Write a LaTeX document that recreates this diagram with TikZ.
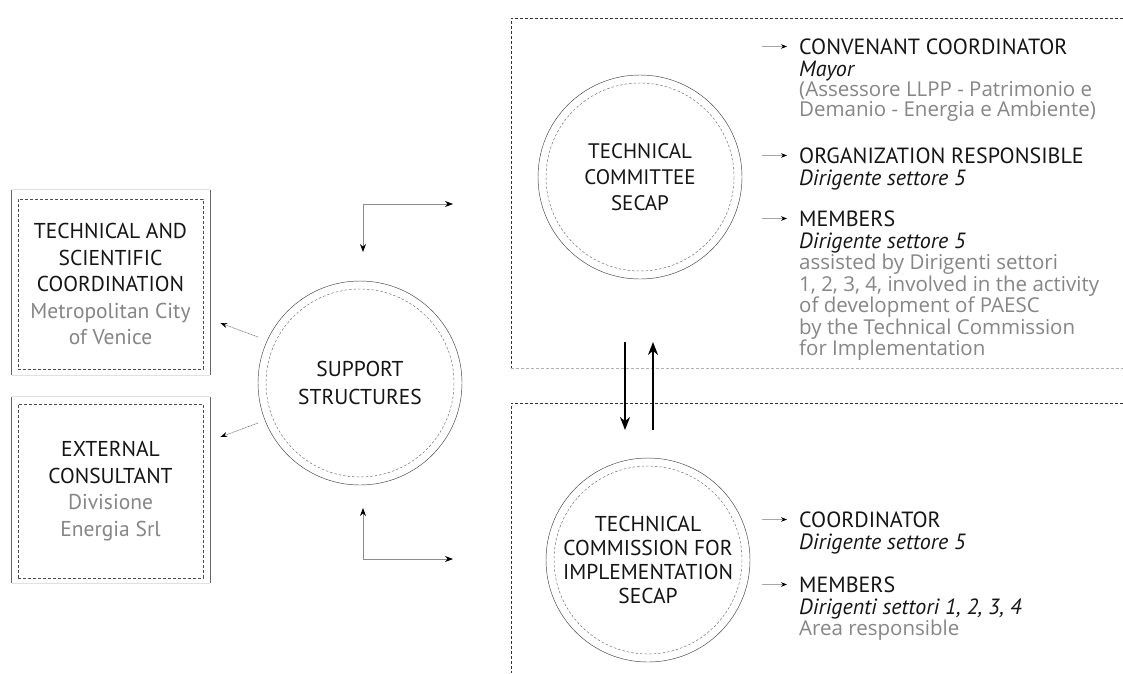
\documentclass[tikz,border=0pt]{standalone}
\usepackage{fontspec}
\setmainfont{PT Sans}
\newfontfamily\grayfont{Open Sans}
\usetikzlibrary{arrows.meta,calc}
\definecolor{txtgray}{HTML}{868686}
\definecolor{txtblack}{HTML}{151515}
\newcommand{\gr}[1]{{\grayfont\fontsize{20.5}{20}\selectfont\color{txtgray}#1}}
\newcommand{\bx}[1]{\textcolor{txtgray}{#1}}
\begin{document}
\begin{tikzpicture}[x=1pt,y=-1pt,
  ring/.style={circle, minimum size=204pt, inner sep=0pt, draw=black!75, line width=0.45pt,
     align=center, text=txtblack},
  inring/.style={draw=black!60, line width=0.45pt, dash pattern=on 2.5pt off 2pt},
  sidebox/.style={draw=black!70, line width=0.55pt, dash pattern=on 3pt off 2pt,
     minimum width=185pt, align=center, text=txtblack, font=\fontsize{21.5}{26.5}\selectfont},
  sideline/.style={draw=black!60, line width=0.7pt},
  sidelight/.style={draw=black!12, line width=0.6pt},
  frameline/.style={draw=black!80, line width=0.55pt, dash pattern=on 3pt off 2pt},
  framelight/.style={draw=black!30, line width=0.55pt, dash pattern=on 3pt off 2pt},
  thinarr/.style={draw=black!70, line width=0.4pt, dash pattern=on 1pt off 0.6pt, -{Stealth[length=7pt,width=5pt,color=black]}},
  larr/.style={draw=black!45, line width=0.8pt, {Stealth[length=8pt,width=6pt,color=black]}-{Stealth[length=8pt,width=6pt,color=black]}},
  bigarr/.style={draw=black, line width=2pt, -{Stealth[length=13pt,width=10pt]}},
  listarr/.style={draw=black!35, line width=0.6pt, -{Stealth[length=6pt,width=4.5pt,color=black]}},
  listtext/.style={anchor=north west, align=left, inner sep=0pt, text=txtblack, font=\fontsize{22}{20}\selectfont},
]
\useasboundingbox (0,0) rectangle (1123,673);
\fill[white] (0,0) rectangle (1123,673);

% frames on the right
\draw[frameline] (1123,18) -- (511,18) -- (511,368);
\draw[framelight] (511,368) -- (1123,368);
\draw[frameline] (1123,403) -- (511,403) -- (511,673);

% circles
\node[ring, font=\fontsize{21.5}{28}\selectfont] (sup) at (360,383) {SUPPORT\\STRUCTURES};
\node[ring, font=\fontsize{21}{26}\selectfont] (tc) at (640,177) {TECHNICAL\\COMMITTEE\\SECAP};
\node[ring, font=\fontsize{21.5}{24}\selectfont] (tci) at (648,560) {TECHNICAL\\COMMISSION FOR\\IMPLEMENTATION\\SECAP};
\foreach \c in {sup,tc,tci} \draw[inring] (\c.center) circle (94);

% side boxes
\node[sidebox, minimum height=170pt] (box1) at (110.5,284)
  {TECHNICAL AND\\SCIENTIFIC\\COORDINATION\\\bx{Metropolitan City}\\\bx{of Venice}};
\node[sidebox, minimum height=174pt] (box2) at (110.5,491)
  {EXTERNAL\\CONSULTANT\\\bx{Divisione}\\\bx{Energia Srl}};
\draw[sideline] ([xshift=-6pt,yshift=9pt]box1.north west) -- ([xshift=-6pt,yshift=-6pt]box1.south west);
\draw[sideline] ([xshift=7pt,yshift=9pt]box1.north east) -- ([xshift=7pt,yshift=-6pt]box1.south east);
\draw[sidelight] ([xshift=-6pt,yshift=9pt]box1.north west) -- ([xshift=7pt,yshift=9pt]box1.north east);
\draw[sidelight] ([xshift=-6pt,yshift=-6pt]box1.south west) -- ([xshift=7pt,yshift=-6pt]box1.south east);
\draw[sideline] ([xshift=-6pt,yshift=7pt]box2.north west) -- ([xshift=-6pt,yshift=-5pt]box2.south west);
\draw[sideline] ([xshift=7pt,yshift=7pt]box2.north east) -- ([xshift=7pt,yshift=-5pt]box2.south east);
\draw[sidelight] ([xshift=-6pt,yshift=7pt]box2.north west) -- ([xshift=7pt,yshift=7pt]box2.north east);
\draw[sidelight] ([xshift=-6pt,yshift=-5pt]box2.south west) -- ([xshift=7pt,yshift=-5pt]box2.south east);

% arrows from support structures to side boxes
\draw[thinarr] ($(sup.center)+(-102,-46)$) -- ($(box1.east)+(17,39)$);
\draw[thinarr] ($(sup.center)+(-102,40)$) -- ($(box2.east)+(17,-54)$);

% L connectors
\coordinate (ltop) at ($(sup.center)+(3,-179)$);
\coordinate (lbot) at ($(sup.center)+(3,176)$);
\draw[larr] ($(sup.center)+(3,-131)$) -- (ltop) -- (ltop -| 453,0);
\draw[larr] ($(sup.center)+(3,125)$) -- (lbot) -- (lbot -| 453,0);

% thick arrows between committees
\draw[bigarr] ($(tc.center)+(-15,165)$) -- ($(tci.center)+(-23,-130)$);
\draw[bigarr] ($(tci.center)+(5,-130)$) -- ($(tc.center)+(13,165)$);

% list items, technical committee
\node[listtext] (l1) at (799,39)
  {CONVENANT COORDINATOR\\[1.5pt]\textit{Mayor}\\\gr{(Assessore LLPP - Patrimonio e}\\\gr{Demanio - Energia e Ambiente)}};
\node[listtext] (l2) at (799,148)
  {ORGANIZATION RESPONSIBLE\\[1.5pt]\textit{Dirigente settore 5}};
\node[listtext] (l3) at (799,211)
  {MEMBERS\\[1.5pt]\textit{Dirigente settore 5}\\\gr{assisted by Dirigenti settori}\\\gr{1, 2, 3, 4, involved in the activity}\\\gr{of development of PAESC}\\\gr{by the Technical Commission}\\\gr{for Implementation}};
% list items, technical commission
\node[listtext] (m1) at (799,512)
  {COORDINATOR\\[1.5pt]\textit{Dirigente settore 5}};
\node[listtext] (m2) at (799,577)
  {MEMBERS\\[1.5pt]\textit{Dirigenti settori 1, 2, 3, 4}\\\gr{Area responsible}};
\foreach \n in {l1,l2,l3,m1,m2}
  \draw[listarr] ($(\n.north west)+(-37,7.5)$) -- ($(\n.north west)+(-12,7.5)$);
\end{tikzpicture}
\end{document}
